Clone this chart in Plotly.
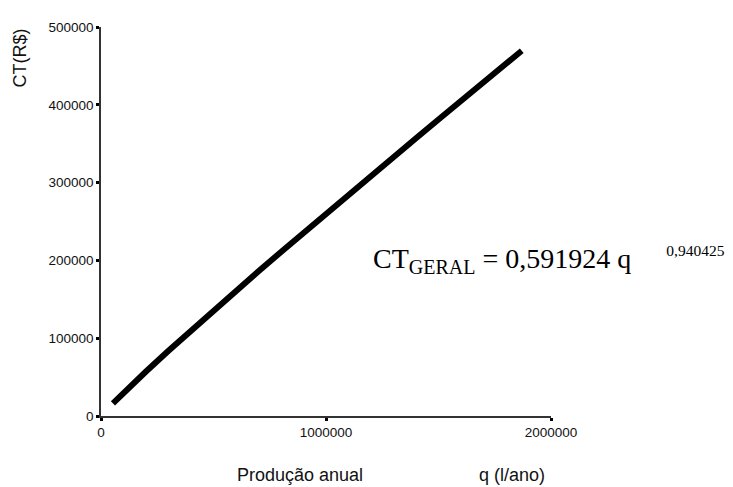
import plotly.graph_objects as go

# Values
producao = [53000, 100000, 200000, 300000, 400000, 500000, 600000, 700000, 800000,
            900000, 1000000, 1100000, 1200000, 1300000, 1400000, 1500000, 1600000,
            1700000, 1800000, 1870000]
custo = [16200, 29800, 57200, 83800, 109900, 135400, 160900, 186000, 210800,
         235500, 260300, 284500, 308800, 333000, 357100, 381100, 404600,
         428400, 452500, 469500]
x_ticks = [0, 1000000, 2000000]
y_ticks = [0, 100000, 200000, 300000, 400000, 500000]

fig = go.Figure()
fig.add_trace(go.Scatter(x=producao, y=custo, mode="lines",
                         line=dict(color="black", width=6), showlegend=False))

axis_common = dict(showgrid=False, zeroline=False, showline=True,
                   linecolor="#333333", linewidth=1.5, ticks="outside",
                   ticklen=3, tickwidth=3, tickcolor="black",
                   tickfont=dict(family="Liberation Sans, Arial", size=13.5, color="#111"))

fig.update_xaxes(range=[0, 2000000], tickvals=x_ticks,
                 ticktext=[str(v) for v in x_ticks], **axis_common)
fig.update_yaxes(range=[0, 500000], tickvals=y_ticks,
                 ticktext=[str(v) for v in y_ticks], **axis_common)

fig.update_layout(
    width=733, height=487,
    margin=dict(l=93, r=190, t=13, b=79),
    plot_bgcolor="white", paper_bgcolor="white",
    font=dict(family="Liberation Sans, Arial", color="#111"),
    annotations=[
        dict(text="CT(R$)", xref="paper", yref="paper", x=-0.18, y=0.919,
             textangle=-90, showarrow=False, font=dict(size=18, color="#111"),
             xanchor="center", yanchor="middle"),
        dict(text="Produção anual", xref="paper", yref="paper", x=0.442, y=-0.152,
             showarrow=False, font=dict(size=18, color="#111"),
             xanchor="center", yanchor="middle"),
        dict(text="q (l/ano)", xref="paper", yref="paper", x=0.913, y=-0.152,
             showarrow=False, font=dict(size=18, color="#111"),
             xanchor="center", yanchor="middle"),
        dict(text='CT<sub><span style="font-size:20px">GERAL</span></sub> = 0,591924 q&nbsp;&nbsp;&nbsp;&nbsp;&nbsp;<sup><span style="font-size:15.5px">0,940425</span></sup>',
             xref="paper", yref="paper", x=0.6, y=0.40,
             showarrow=False, xanchor="left", yanchor="middle",
             font=dict(family="Liberation Serif, Times New Roman", size=28, color="black")),
    ],
)

fig.write_html("out.html")
